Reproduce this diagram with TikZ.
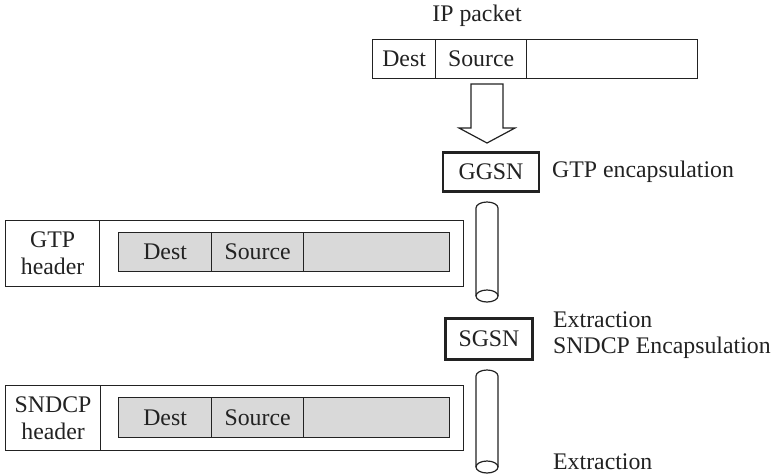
\documentclass[tikz,border=0pt]{standalone}
\usepackage{fontspec}
\setmainfont{Liberation Serif}
\definecolor{ink}{HTML}{222222}
\definecolor{shade}{HTML}{D9D9D9}
% vertical tube: centre x, top y, bottom y
\newcommand\drawtube[3]{%
  \fill[white] (#1-11,#2+6) arc[start angle=180,end angle=360,x radius=11,y radius=6]
    -- (#1+11,#3-6) arc[start angle=0,end angle=-180,x radius=11,y radius=6] -- cycle;
  \draw[tubeline] (#1-11,#3-6) -- (#1-11,#2+6)
    arc[start angle=180,end angle=360,x radius=11,y radius=6] -- (#1+11,#3-6);
  \draw[tubeline] (#1,#3-6) ellipse[x radius=11,y radius=6];
}
\begin{document}
\begin{tikzpicture}[x=1pt,y=-1pt,
  every node/.style={font=\fontsize{23.8}{27}\selectfont, text=ink},
  cell/.style={draw=ink, line width=1.2pt, inner sep=0pt, anchor=north west},
  graycell/.style={cell, fill=shade},
  netnode/.style={draw=ink, line width=2.6pt, inner sep=0pt, fill=white},
  tubeline/.style={draw=ink, line width=1.2pt},
  note/.style={anchor=west, inner sep=0pt}]
\useasboundingbox (0,0) rectangle (772,475);

% IP packet
\node[inner sep=0pt] (iplabel) at (477,16) {IP packet};
\node[cell, minimum width=63pt, minimum height=39pt] (ipdest) at (372,39) {Dest};
\node[cell, minimum width=91pt, minimum height=39pt] (ipsrc) at (435,39) {Source};
\node[cell, minimum width=171pt, minimum height=39pt] (iprest) at (526,39) {};

% hollow arrow into the GGSN
\draw[ink, line width=1.2pt, fill=white]
  (471,84) -- (503,84) -- (503,128) -- (515,128) -- (487,143)
  -- (459,128) -- (471,128) -- cycle;

% network nodes
\node[netnode, minimum width=96pt, minimum height=39pt] (ggsn) at (491,172) {GGSN};
\node[note] (gtpenc) at (552,172) {GTP encapsulation};
\node[netnode, minimum width=87pt, minimum height=41pt] (sgsn) at (489,339) {SGSN};
\node[note] (extr1) at (553,320) {Extraction};
\node[note] (sndenc) at (553,348) {SNDCP Encapsulation};
\node[note] (extr2) at (553,462) {Extraction};

% tunnels
\drawtube{487}{202}{302}
\drawtube{487}{370}{473}

% GTP frame
\node[cell, minimum width=94pt, minimum height=66pt, align=center] (gtphdr) at (5,220) {GTP\\header};
\node[cell, minimum width=364pt, minimum height=66pt] (gtpbody) at (99,220) {};
\node[graycell, minimum width=93pt, minimum height=39pt] (gtpdest) at (118,232) {Dest};
\node[graycell, minimum width=92pt, minimum height=39pt] (gtpsrc) at (211,232) {Source};
\node[graycell, minimum width=146pt, minimum height=39pt] (gtprest) at (303,232) {};

% SNDCP frame
\node[cell, minimum width=95pt, minimum height=65pt, align=center] (sndhdr) at (5,385) {SNDCP\\header};
\node[cell, minimum width=363pt, minimum height=65pt] (sndbody) at (100,385) {};
\node[graycell, minimum width=93pt, minimum height=40pt] (snddest) at (118,397) {Dest};
\node[graycell, minimum width=92pt, minimum height=40pt] (sndsrc) at (211,397) {Source};
\node[graycell, minimum width=146pt, minimum height=40pt] (sndrest) at (303,397) {};
\end{tikzpicture}
\end{document}
